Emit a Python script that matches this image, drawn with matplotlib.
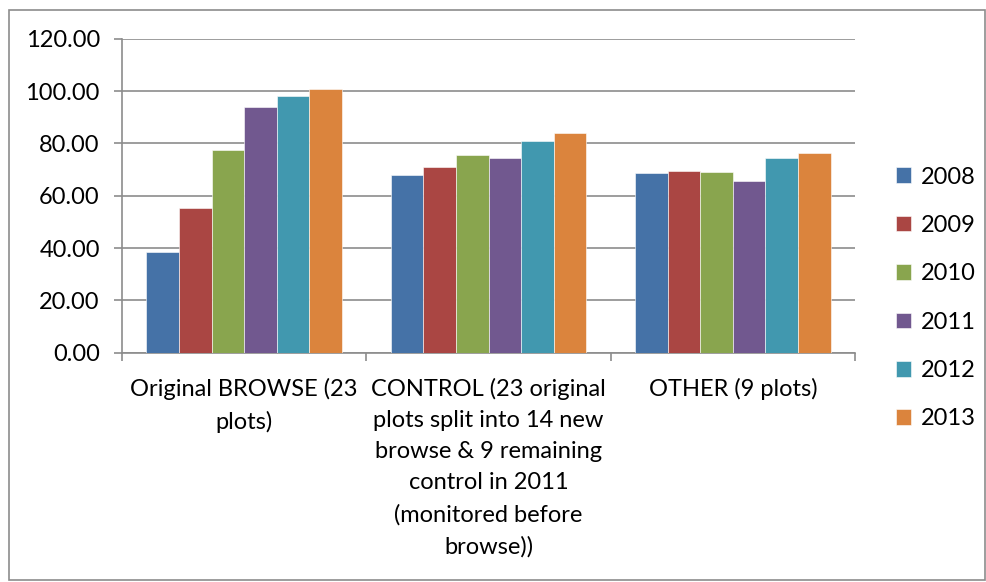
import matplotlib.pyplot as plt
import matplotlib.patches as mpatches
import numpy as np

plt.rcParams['font.family'] = ['Lato', 'DejaVu Sans']

categories = ['Original BROWSE (23\nplots)',
              'CONTROL (23 original\nplots split into 14 new\nbrowse & 9 remaining\ncontrol in 2011\n(monitored before\nbrowse))',
              'OTHER (9 plots)']
years = ['2008', '2009', '2010', '2011', '2012', '2013']
v2008 = [38.6, 67.9, 68.5]
v2009 = [55.4, 71.0, 69.6]
v2010 = [77.5, 75.7, 69.2]
v2011 = [93.8, 74.4, 65.6]
v2012 = [98.2, 80.8, 74.4]
v2013 = [100.9, 84.1, 76.3]
series = [v2008, v2009, v2010, v2011, v2012, v2013]
colors = ['#4572A7', '#AA4643', '#89A54E', '#71588F', '#4198AF', '#DB843D']

fig = plt.figure(figsize=(9.87, 5.82), dpi=100)
ax = fig.add_axes([0.1236, 0.394, 0.7427, 0.5395])

# outer chart frame
fig.patches.append(mpatches.Rectangle((0.009, 0.003), 0.989, 0.98, transform=fig.transFigure,
                                      fill=False, edgecolor='#8c8c8c', linewidth=1.2))

x = np.arange(len(categories))
w = 1 / 7.5
for i, vals in enumerate(series):
    ax.bar(x + (i - 2.5) * w, vals, width=w, color=colors[i], label=years[i],
           edgecolor='white', linewidth=0.4, zorder=3)

ax.set_xlim(-0.5, 2.5)
ax.set_ylim(0, 120)
ax.set_yticks(range(0, 121, 20))
ax.set_yticklabels(['%.2f' % t for t in range(0, 121, 20)], fontsize=17)
ax.yaxis.grid(True, color='#8c8c8c', linewidth=1.2, zorder=0)

ax.set_xticks(x)
ax.set_xticklabels(categories, fontsize=17, linespacing=1.6, va='top')
ax.set_xticks([-0.5, 0.5, 1.5, 2.5], minor=True)
ax.tick_params(axis='x', which='major', length=0, pad=18)
ax.tick_params(axis='x', which='minor', length=6, color='#8c8c8c', width=1.2)
ax.tick_params(axis='y', length=6, color='#8c8c8c', width=1.2, pad=10)

for s in ['top', 'right']:
    ax.spines[s].set_visible(False)
for s in ['left', 'bottom']:
    ax.spines[s].set_color('#8c8c8c')
    ax.spines[s].set_linewidth(1.2)

ax.legend(loc='center left', bbox_to_anchor=(0.898, 0.488), bbox_transform=fig.transFigure,
          frameon=False, fontsize=17, handlelength=0.65, handleheight=0.65,
          handletextpad=0.4, labelspacing=1.16, borderaxespad=0)

fig.savefig('out.png', dpi=100)
